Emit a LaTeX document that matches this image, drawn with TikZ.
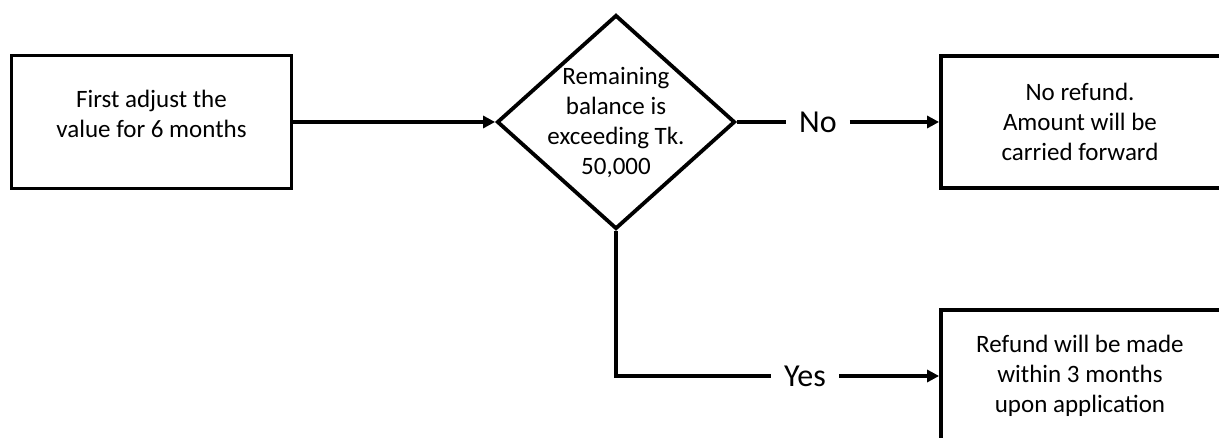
\documentclass[tikz,border=0pt]{standalone}
\usepackage{fontspec}
\setmainfont{Carlito}
\usetikzlibrary{shapes.geometric,arrows.meta}
\begin{document}
\begin{tikzpicture}[x=1pt,y=-1pt,
  box/.style={draw, line width=3.8pt, minimum width=280pt, minimum height=133pt, inner sep=0pt},
  decision/.style={draw, diamond, line width=3.8pt, minimum width=238pt, minimum height=214pt, inner sep=0pt},
  bodytext/.style={align=center, inner sep=0pt, font=\fontsize{25}{30}\selectfont},
  branch/.style={inner xsep=13pt, inner ysep=0pt, font=\fontsize{32}{38}\selectfont},
  link/.style={line width=3.8pt},
  flow/.style={link, -{Triangle[length=12pt,width=12pt]}}]
\useasboundingbox (0,0) rectangle (1219,438);
\clip (0,0) rectangle (1219,438);

% boxes and the decision
\node[box] (start) at (151.5,122) {};
\node[decision] (dec) at (616,122) {};
\node[box, minimum height=132pt] (nobox) at (1081,122) {};
\node[box, minimum height=132pt] (yesbox) at (1081,376) {};

% texts
\node[bodytext] (starttext) at (151.5,114) {First adjust the\\value for 6 months};
\node[bodytext] (dectext) at (616,123) {Remaining\\balance is\\exceeding Tk.\\50,000};
\node[bodytext] (notext) at (1080,121.5) {No refund.\\Amount will be\\carried forward};
\node[bodytext] (yestext) at (1080,376) {Refund will be made\\within 3 months\\upon application};

% branch labels
\node[branch] (no) at (818,122) {No};
\node[branch] (yes) at (805,376) {Yes};

% connectors
\draw[flow] (start.east) -- (dec.west);
\draw[link] (dec.east) -- (no.west);
\draw[flow] (no.east) -- (nobox.west);
\draw[link] (dec.south) |- (yes.west);
\draw[flow] (yes.east) -- (yesbox.west);
\end{tikzpicture}
\end{document}
